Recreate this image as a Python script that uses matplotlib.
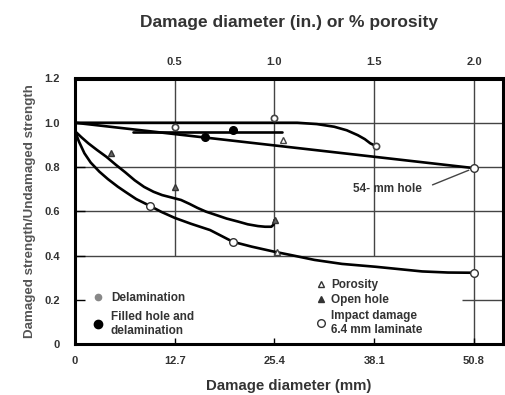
import matplotlib
matplotlib.use("Agg")
import matplotlib.pyplot as plt
from matplotlib.lines import Line2D

plt.rcParams["font.family"] = ["Liberation Sans", "DejaVu Sans"]
plt.rcParams["font.weight"] = "bold"
plt.rcParams["axes.labelweight"] = "bold"

TXT = "#333333"

# delamination curve and points
delam_x = [0, 10, 20, 28.3, 30.8, 33.0, 34.6, 36.0, 36.9, 37.6, 38.3]
delam_y = [1.0, 1.0, 1.0, 1.0, 0.994, 0.982, 0.966, 0.944, 0.926, 0.907, 0.895]
delam_pts_x = [12.7, 25.4, 38.3]
delam_pts_y = [0.98, 1.02, 0.895]

# 54-mm hole straight line
hole_x = [0, 50.8]
hole_y = [1.0, 0.795]

# filled hole and delamination
filled_x = [7.4, 26.3]
filled_y = [0.958, 0.958]
filled_pts_x = [16.5, 20.1]
filled_pts_y = [0.934, 0.967]

# porosity points
poro_pts_x = [26.5, 25.7]
poro_pts_y = [0.922, 0.415]

# open hole curve
open_x = [0, 0.8, 1.7, 2.8, 4.0, 5.2, 6.4, 7.6, 8.8, 10.0, 11.1, 12.3, 13.5, 14.6, 15.6,
          16.7, 17.8, 19.3, 20.8, 22.0, 23.3, 24.2, 25.0, 25.3, 25.4]
open_y = [0.962, 0.935, 0.907, 0.877, 0.846, 0.81, 0.776, 0.74, 0.71, 0.688, 0.673, 0.662,
          0.651, 0.633, 0.615, 0.598, 0.585, 0.567, 0.553, 0.541, 0.533, 0.530, 0.530, 0.54, 0.56]
open_pts_x = [4.6, 12.7, 25.5]
open_pts_y = [0.862, 0.711, 0.56]

# impact damage curve
impact_x = [0, 0.5, 1.2, 2.0, 3.1, 4.2, 5.45, 6.4, 7.8, 9.5, 11.0, 12.7, 14.8, 17.2, 20.1,
            22.5, 25.4, 27.5, 30.5, 34.0, 38.3, 44.2, 47.5, 50.8]
impact_y = [0.963, 0.915, 0.862, 0.82, 0.779, 0.745, 0.711, 0.688, 0.655, 0.625, 0.597, 0.57,
            0.543, 0.515, 0.462, 0.44, 0.417, 0.402, 0.38, 0.362, 0.349, 0.328, 0.323, 0.322]
impact_pts_x = [9.5, 20.1, 50.8, 50.8]
impact_pts_y = [0.625, 0.462, 0.322, 0.795]

mm_ticks = [0, 12.7, 25.4, 38.1, 50.8]
mm_labels = ["0", "12.7", "25.4", "38.1", "50.8"]
in_ticks = [0.5, 1.0, 1.5, 2.0]
in_labels = ["0.5", "1.0", "1.5", "2.0"]
y_ticks = [0, 0.2, 0.4, 0.6, 0.8, 1.0, 1.2]
y_labels = ["0", "0.2", "0.4", "0.6", "0.8", "1.0", "1.2"]

XMAX = 54.5

fig = plt.figure(figsize=(5.05, 3.95), dpi=100)
ax = fig.add_axes([75 / 505, 1 - 344 / 395, 428 / 505, 265.5 / 395])
ax.set_xlim(0, XMAX)
ax.set_ylim(0, 1.2)

# grid
grid_kw = dict(color="#444444", lw=1.0, zorder=1)
ax.hlines([0.4, 0.6, 0.8, 1.0], 0, XMAX, **grid_kw)
ax.vlines([12.7, 25.4, 38.1], 0.4, 1.2, **grid_kw)
ax.vlines([50.8], 0, 1.2, **grid_kw)
ax.hlines([0.2], 49.3, XMAX, **grid_kw)

line_kw = dict(color="black", lw=1.9, zorder=3, solid_joinstyle="round", solid_capstyle="round")
ax.plot(delam_x, delam_y, **line_kw)
ax.plot(hole_x, hole_y, **line_kw)
ax.plot(filled_x, filled_y, **line_kw)
ax.plot(open_x, open_y, **line_kw)
ax.plot(impact_x, impact_y, **line_kw)

ax.plot(delam_pts_x, delam_pts_y, "o", ms=4.5, mfc="white", mec="#444444", mew=1.2, zorder=4)
ax.plot(filled_pts_x, filled_pts_y, "o", ms=5.5, mfc="black", mec="black", zorder=4)
ax.plot(poro_pts_x, poro_pts_y, "^", ms=5, mfc="white", mec="#444444", mew=1.0, zorder=4)
ax.plot(open_pts_x, open_pts_y, "^", ms=5, mfc="#666666", mec="#333333", mew=1.0, zorder=4)
ax.plot(impact_pts_x, impact_pts_y, "o", ms=5.5, mfc="white", mec="#333333", mew=1.0, zorder=4)

ax.annotate("54- mm hole", xy=(50.8, 0.795), xytext=(39.8, 0.70), ha="center", va="center",
            fontsize=8.5, color=TXT,
            arrowprops=dict(arrowstyle="-", color="#444444", lw=1.0, relpos=(1, 0.5),
                            shrinkA=6, shrinkB=4))

# axes styling
for s in ax.spines.values():
    s.set_linewidth(2.2)
ax.set_xticks(mm_ticks)
ax.set_xticklabels(mm_labels)
ax.set_yticks(y_ticks)
ax.set_yticklabels(y_labels)
ax.tick_params(axis="x", direction="in", length=4, width=1, pad=9, labelsize=8, labelcolor=TXT)
ax.tick_params(axis="y", direction="in", length=7, width=1, pad=11, labelsize=8, labelcolor=TXT)
ax.set_xlabel("Damage diameter (mm)", fontsize=10.8, fontweight="bold", color=TXT, labelpad=9)
ax.set_ylabel("Damaged strength/Undamaged strength", fontsize=9.6, fontweight="bold",
              color="#555555", labelpad=6)

sec = ax.secondary_xaxis("top", functions=(lambda v: v / 25.4, lambda v: v * 25.4))
sec.set_xticks(in_ticks)
sec.set_xticklabels(in_labels)
sec.tick_params(length=0, pad=8, labelsize=8, labelcolor=TXT)
sec.spines["top"].set_linewidth(2.2)
sec.set_xlabel("Damage diameter (in.) or % porosity", fontsize=12.5, fontweight="bold",
               color=TXT, labelpad=22)

# legends
left_handles = [
    Line2D([], [], ls="none", marker="o", ms=4.5, mfc="#888888", mec="#888888"),
    Line2D([], [], ls="none", marker="o", ms=6, mfc="black", mec="black"),
]
leg1 = ax.legend(left_handles, ["Delamination", "Filled hole and\ndelamination"],
                 loc="upper left", bbox_to_anchor=(0.015, 0.235), frameon=False,
                 fontsize=8.5, handlelength=1.0, handletextpad=0.6, labelspacing=0.55,
                 labelcolor=TXT)
ax.add_artist(leg1)
mid_handles = [
    Line2D([], [], ls="none", marker="^", ms=5, mfc="white", mec="#333333"),
    Line2D([], [], ls="none", marker="^", ms=5, mfc="#333333", mec="#333333"),
    Line2D([], [], ls="none", marker="o", ms=5.5, mfc="white", mec="#333333"),
]
ax.legend(mid_handles, ["Porosity", "Open hole", "Impact damage\n6.4 mm laminate"],
          loc="upper left", bbox_to_anchor=(0.54, 0.285), frameon=False,
          fontsize=8.5, handlelength=0.8, handletextpad=0.4, labelspacing=0.3,
          labelcolor=TXT)

fig.savefig("out.png", dpi=100)
